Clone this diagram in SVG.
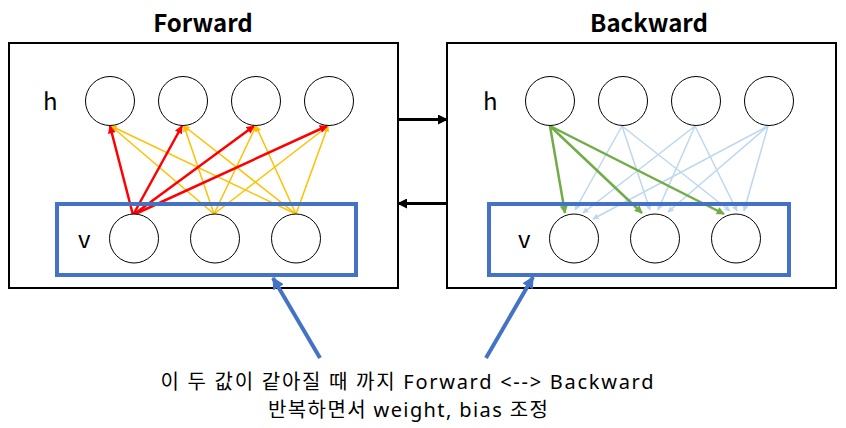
<svg xmlns="http://www.w3.org/2000/svg" width="846" height="428" viewBox="0 0 846 428">
<style>
.panel{fill:#fff;stroke:#000;stroke-width:2}
.layer{fill:none;stroke:#4472C4;stroke-width:4}
.node{fill:#fff;stroke:#000;stroke-width:1}
.title{font-family:"Noto Sans CJK KR","Noto Sans",sans-serif;font-weight:bold;font-size:24px;fill:#000;text-anchor:middle}
.lbl{font-family:"Noto Sans CJK KR","Noto Sans",sans-serif;font-size:24px;fill:#000}
.note{font-family:"Noto Sans","Noto Sans CJK KR",sans-serif;font-size:20px;fill:#000;text-anchor:middle}
.red{stroke:#FF0000;stroke-width:2.5;fill:none;marker-end:url(#aRed)}
.yel{stroke:#FFC000;stroke-width:1.5;fill:none;marker-end:url(#aYel)}
.grn{stroke:#70AD47;stroke-width:2.5;fill:none;marker-end:url(#aGrn)}
.lb{stroke:#BDD7EE;stroke-width:1.5;fill:none;marker-end:url(#aLb)}
.blk{stroke:#000;stroke-width:3;fill:none;marker-end:url(#aBlk)}
.blu{stroke:#4472C4;stroke-width:4;fill:none;marker-end:url(#aBlu)}
</style>
<defs>
<marker id="aRed" viewBox="0 0 10 10" refX="9" refY="5" markerUnits="userSpaceOnUse" markerWidth="9" markerHeight="8" orient="auto"><path d="M0,0L10,5L0,10z" fill="#FF0000"/></marker>
<marker id="aYel" viewBox="0 0 10 10" refX="9" refY="5" markerUnits="userSpaceOnUse" markerWidth="7" markerHeight="6" orient="auto"><path d="M0,0L10,5L0,10z" fill="#FFC000"/></marker>
<marker id="aGrn" viewBox="0 0 10 10" refX="9" refY="5" markerUnits="userSpaceOnUse" markerWidth="9" markerHeight="8" orient="auto"><path d="M0,0L10,5L0,10z" fill="#70AD47"/></marker>
<marker id="aLb" viewBox="0 0 10 10" refX="9" refY="5" markerUnits="userSpaceOnUse" markerWidth="7" markerHeight="6" orient="auto"><path d="M0,0L10,5L0,10z" fill="#BDD7EE"/></marker>
<marker id="aBlk" viewBox="0 0 10 10" refX="9" refY="5" markerUnits="userSpaceOnUse" markerWidth="11" markerHeight="10" orient="auto"><path d="M0,0L10,5L0,10z" fill="#000"/></marker>
<marker id="aBlu" viewBox="0 0 10 10" refX="9" refY="5" markerUnits="userSpaceOnUse" markerWidth="12" markerHeight="12" orient="auto"><path d="M0,0L10,5L0,10z" fill="#4472C4"/></marker>
</defs>

<g id="forward-panel">
<rect class="panel" x="9" y="43" width="389" height="245"/>
<text class="title" x="203" y="32">Forward</text>
<text class="lbl" x="43" y="110">h</text>
</g>
<g id="backward-panel">
<rect class="panel" x="447" y="43" width="389" height="245"/>
<text class="title" x="649" y="32">Backward</text>
<text class="lbl" x="483" y="110">h</text>
</g>

<g id="connectors">
<line class="yel" x1="214" y1="214" x2="111" y2="126"/>
<line class="yel" x1="214" y1="214" x2="184" y2="126"/>
<line class="yel" x1="214" y1="214" x2="256" y2="126"/>
<line class="yel" x1="214" y1="214" x2="328" y2="126"/>
<line class="yel" x1="296" y1="214" x2="111" y2="126"/>
<line class="yel" x1="296" y1="214" x2="184" y2="126"/>
<line class="yel" x1="296" y1="214" x2="256" y2="126"/>
<line class="yel" x1="296" y1="214" x2="328" y2="126"/>
<line class="red" x1="133" y1="215" x2="110" y2="126"/>
<line class="red" x1="133" y1="215" x2="182" y2="126"/>
<line class="red" x1="133" y1="215" x2="254" y2="126"/>
<line class="red" x1="133" y1="215" x2="327" y2="126"/>
<line class="lb" x1="622" y1="126" x2="575" y2="210"/>
<line class="lb" x1="622" y1="126" x2="650" y2="210"/>
<line class="lb" x1="622" y1="126" x2="730" y2="211"/>
<line class="lb" x1="695" y1="126" x2="583" y2="213"/>
<line class="lb" x1="695" y1="126" x2="658" y2="210"/>
<line class="lb" x1="695" y1="126" x2="737" y2="211"/>
<line class="lb" x1="768" y1="126" x2="593" y2="219"/>
<line class="lb" x1="768" y1="126" x2="668" y2="212"/>
<line class="lb" x1="768" y1="126" x2="744" y2="211"/>
<line class="grn" x1="550" y1="126" x2="565" y2="213"/>
<line class="grn" x1="550" y1="126" x2="642" y2="213"/>
<line class="grn" x1="550" y1="126" x2="724" y2="214"/>
<line class="blk" x1="398" y1="119.5" x2="447" y2="119.5"/>
<line class="blk" x1="447" y1="203.5" x2="398" y2="203.5"/>
<line class="blu" x1="320" y1="358" x2="273" y2="278"/>
<line class="blu" x1="486" y1="358" x2="533" y2="277"/>
</g>

<g id="forward-h">
<circle id="f-h1" class="node" cx="110" cy="101" r="24.5"/>
<circle id="f-h2" class="node" cx="183" cy="101" r="24.5"/>
<circle id="f-h3" class="node" cx="256" cy="101" r="24.5"/>
<circle id="f-h4" class="node" cx="329" cy="101" r="24.5"/>
</g>
<g id="forward-v">
<rect class="layer" x="57" y="204" width="299" height="71"/>
<text class="lbl" x="78" y="248">v</text>
<circle id="f-v1" class="node" cx="134" cy="238.5" r="24.5"/>
<circle id="f-v2" class="node" cx="215" cy="238.5" r="24.5"/>
<circle id="f-v3" class="node" cx="296" cy="238.5" r="24.5"/>
</g>
<g id="backward-h">
<circle id="b-h1" class="node" cx="550" cy="101" r="24.5"/>
<circle id="b-h2" class="node" cx="623" cy="101" r="24.5"/>
<circle id="b-h3" class="node" cx="696" cy="101" r="24.5"/>
<circle id="b-h4" class="node" cx="769" cy="101" r="24.5"/>
</g>
<g id="backward-v">
<rect class="layer" x="489" y="204" width="300" height="71"/>
<text class="lbl" x="518" y="248">v</text>
<circle id="b-v1" class="node" cx="574" cy="238.5" r="24.5"/>
<circle id="b-v2" class="node" cx="655" cy="238.5" r="24.5"/>
<circle id="b-v3" class="node" cx="736" cy="238.5" r="24.5"/>
</g>

<g id="note">
<text class="note" x="407" y="389" textLength="493" lengthAdjust="spacing">이 두 값이 같아질 때 까지 Forward &lt;--&gt; Backward</text>
<text class="note" x="408" y="417" textLength="280" lengthAdjust="spacing">반복하면서 weight, bias 조정</text>
</g>
</svg>
